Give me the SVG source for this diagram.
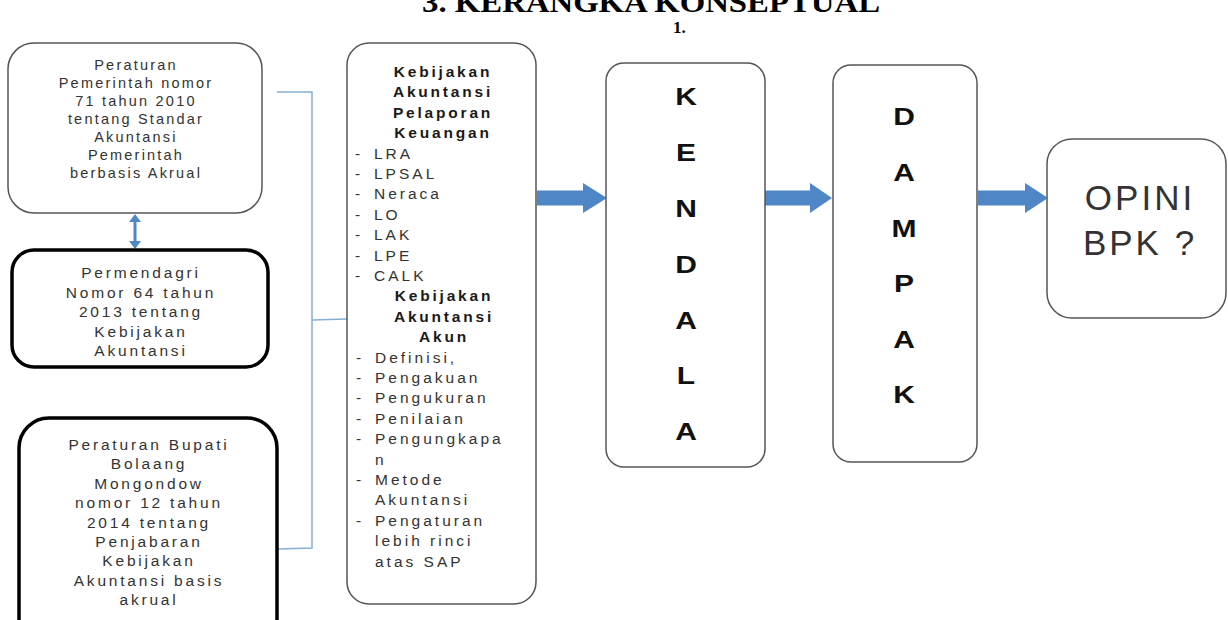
<svg xmlns="http://www.w3.org/2000/svg" width="1228" height="620" viewBox="0 0 1228 620">
<style>
.box{fill:#fff;stroke:#555;stroke-width:1.5}
.thick{fill:#fff;stroke:#000;stroke-width:3.5}
.t1{font-family:"Liberation Sans",Arial,sans-serif;font-size:14.5px;letter-spacing:2.2px;fill:#333;text-anchor:middle}
.t2{font-family:"Liberation Sans",Arial,sans-serif;font-size:15.5px;letter-spacing:2.8px;fill:#333;text-anchor:middle}
.m{font-family:"Liberation Sans",Arial,sans-serif;font-size:15.5px;letter-spacing:3px;fill:#333}
.mb{font-family:"Liberation Sans",Arial,sans-serif;font-size:15.5px;letter-spacing:2.8px;fill:#1a1a1a;font-weight:bold;text-anchor:middle}
.big{font-family:"Liberation Sans",Arial,sans-serif;font-size:24px;font-weight:bold;fill:#111;text-anchor:middle}
.op{font-family:"Liberation Sans",Arial,sans-serif;font-size:35px;letter-spacing:3px;fill:#333;text-anchor:middle}
.arr{fill:#4f86c6}
.brace{fill:none;stroke:#86aed4;stroke-width:1.5}
</style>
<rect width="1228" height="620" fill="#fff"/>
<g id="title">
<text x="422" y="12" font-family="Liberation Serif,Times New Roman,serif" font-size="30" font-weight="bold" fill="#000" textLength="458" lengthAdjust="spacingAndGlyphs">3. KERANGKA KONSEPTUAL</text>
<text x="673" y="33" font-family="Liberation Serif,Times New Roman,serif" font-size="17" font-weight="bold" fill="#000">1.</text>
</g>
<g id="connectors">
<path class="brace" d="M277,92 L312,92 L312,548 L278,549 M312,320 L347,319"/>
<polygon class="arr" points="133.5,222 129,222 135,214 141,222 136.5,222 136.5,241 141,241 135,249 129,241 133.5,241"/>
<polygon class="arr" points="537,190.5 583,190.5 583,183 607,198 583,213 583,205.5 537,205.5"/>
<polygon class="arr" points="765,190.5 810,190.5 810,183 832,198 810,213 810,205.5 765,205.5"/>
<polygon class="arr" points="978,190.5 1025,190.5 1025,183 1048,198 1025,213 1025,205.5 978,205.5"/>
</g>
<g id="pp71">
<rect class="box" x="8" y="43" width="254" height="170" rx="26"/>
<text class="t1" x="136" y="70">Peraturan</text>
<text class="t1" x="136" y="88">Pemerintah nomor</text>
<text class="t1" x="136" y="106">71 tahun 2010</text>
<text class="t1" x="136" y="124">tentang Standar</text>
<text class="t1" x="136" y="142">Akuntansi</text>
<text class="t1" x="136" y="160">Pemerintah</text>
<text class="t1" x="136" y="178">berbasis Akrual</text>
</g>
<g id="permendagri">
<rect class="thick" x="12" y="250" width="256" height="117" rx="22"/>
<text class="t2" x="141" y="278">Permendagri</text>
<text class="t2" x="141" y="297.5">Nomor 64 tahun</text>
<text class="t2" x="141" y="317">2013 tentang</text>
<text class="t2" x="141" y="336.5">Kebijakan</text>
<text class="t2" x="141" y="356">Akuntansi</text>
</g>
<g id="perbup">
<rect class="thick" x="19" y="418" width="258" height="230" rx="30"/>
<text class="t2" x="149" y="450">Peraturan Bupati</text>
<text class="t2" x="149" y="469.4">Bolaang</text>
<text class="t2" x="149" y="488.8">Mongondow</text>
<text class="t2" x="149" y="508.2">nomor 12 tahun</text>
<text class="t2" x="149" y="527.6">2014 tentang</text>
<text class="t2" x="149" y="547">Penjabaran</text>
<text class="t2" x="149" y="566.4">Kebijakan</text>
<text class="t2" x="149" y="585.8">Akuntansi basis</text>
<text class="t2" x="149" y="605.2">akrual</text>
</g>
<g id="kebijakan">
<rect class="box" x="347" y="43" width="189" height="561" rx="22"/>
<text class="mb" x="443" y="77">Kebijakan</text>
<text class="mb" x="443" y="97.4">Akuntansi</text>
<text class="mb" x="443" y="117.8">Pelaporan</text>
<text class="mb" x="443" y="138.2">Keuangan</text>
<text class="m" x="355" y="158.6">-</text><text class="m" x="374" y="158.6">LRA</text>
<text class="m" x="355" y="179">-</text><text class="m" x="374" y="179">LPSAL</text>
<text class="m" x="355" y="199.4">-</text><text class="m" x="374" y="199.4">Neraca</text>
<text class="m" x="355" y="219.8">-</text><text class="m" x="374" y="219.8">LO</text>
<text class="m" x="355" y="240.2">-</text><text class="m" x="374" y="240.2">LAK</text>
<text class="m" x="355" y="260.6">-</text><text class="m" x="374" y="260.6">LPE</text>
<text class="m" x="355" y="281">-</text><text class="m" x="374" y="281">CALK</text>
<text class="mb" x="444" y="301.4">Kebijakan</text>
<text class="mb" x="444" y="321.8">Akuntansi</text>
<text class="mb" x="444" y="342.2">Akun</text>
<text class="m" x="356" y="362.6">-</text><text class="m" x="375" y="362.6">Definisi,</text>
<text class="m" x="356" y="383">-</text><text class="m" x="375" y="383">Pengakuan</text>
<text class="m" x="356" y="403.4">-</text><text class="m" x="375" y="403.4">Pengukuran</text>
<text class="m" x="356" y="423.8">-</text><text class="m" x="375" y="423.8">Penilaian</text>
<text class="m" x="356" y="444.2">-</text><text class="m" x="375" y="444.2">Pengungkapa</text>
<text class="m" x="375" y="464.6">n</text>
<text class="m" x="356" y="485">-</text><text class="m" x="375" y="485">Metode</text>
<text class="m" x="375" y="505.4">Akuntansi</text>
<text class="m" x="356" y="525.8">-</text><text class="m" x="375" y="525.8">Pengaturan</text>
<text class="m" x="375" y="546.2">lebih rinci</text>
<text class="m" x="375" y="566.6">atas SAP</text>
</g>
<g id="kendala">
<rect class="box" x="606" y="63" width="159" height="404" rx="18"/>
<g transform="translate(686 0) scale(1.25 1)">
<text class="big" x="0" y="105.5">K</text>
<text class="big" x="0" y="161.3">E</text>
<text class="big" x="0" y="217.1">N</text>
<text class="big" x="0" y="272.9">D</text>
<text class="big" x="0" y="328.7">A</text>
<text class="big" x="0" y="384.5">L</text>
<text class="big" x="0" y="440.3">A</text>
</g>
</g>
<g id="dampak">
<rect class="box" x="833" y="65" width="144" height="397" rx="18"/>
<g transform="translate(904 0) scale(1.25 1)">
<text class="big" x="0" y="125.5">D</text>
<text class="big" x="0" y="181.1">A</text>
<text class="big" x="0" y="236.7">M</text>
<text class="big" x="0" y="292.3">P</text>
<text class="big" x="0" y="347.9">A</text>
<text class="big" x="0" y="403.5">K</text>
</g>
</g>
<g id="opini">
<rect class="box" x="1047" y="139" width="179" height="179" rx="25"/>
<text class="op" x="1140" y="209.5">OPINI</text>
<text class="op" x="1140" y="254.5">BPK ?</text>
</g>
</svg>
